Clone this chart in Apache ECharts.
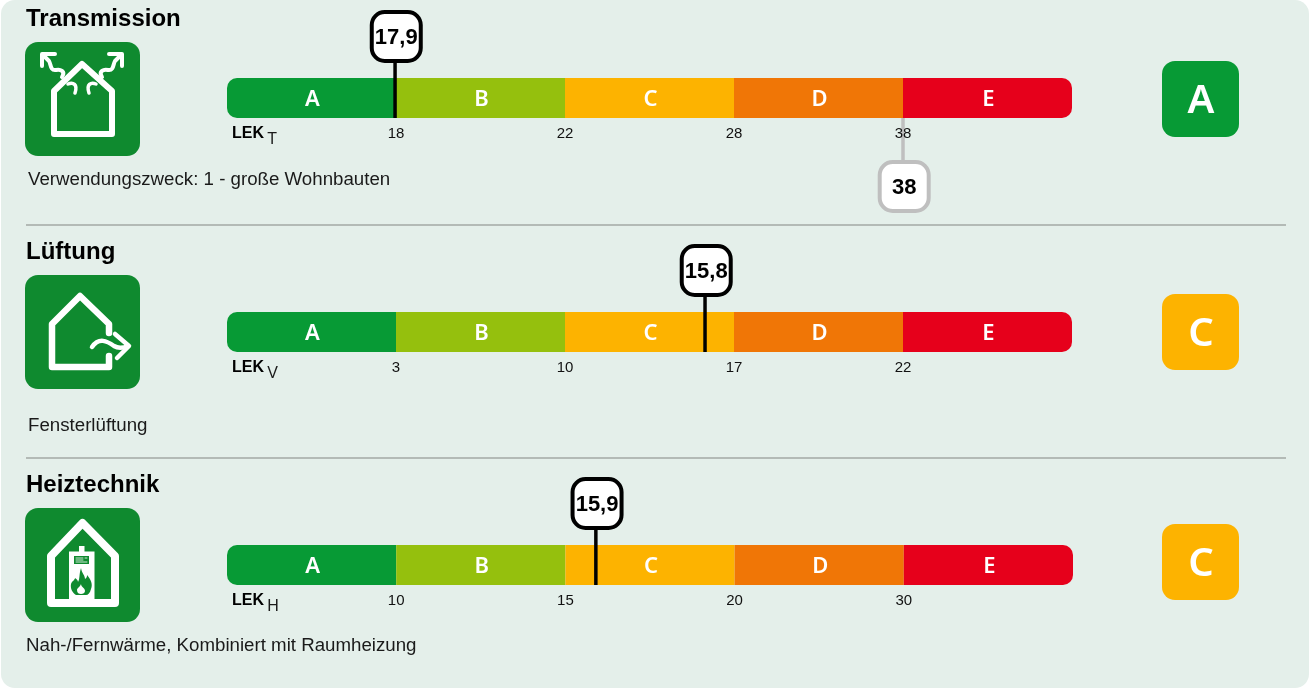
<!DOCTYPE html>
<html>
<head>
<meta charset="utf-8">
<title>LEK</title>
<script src="https://cdn.jsdelivr.net/npm/echarts@6/dist/echarts.min.js"></script>
<style>
html,body{margin:0;padding:0;background:#fff;}
#main{width:1309px;height:689px;}
</style>
</head>
<body>
<div id="main"></div>
<script>
var classes = ['A','B','C','D','E'];
var classColors = ['#079A35','#95C00D','#FDB300','#F07606','#E6001B'];

var rowTitles = ['Transmission','Lüftung','Heiztechnik'];
var rowNotes = ['Verwendungszweck: 1 - große Wohnbauten','Fensterlüftung','Nah-/Fernwärme, Kombiniert mit Raumheizung'];
var rowSubs = ['T','V','H'];
var transBounds = [18,22,28,38];
var ventBounds = [3,10,17,22];
var heatBounds = [10,15,20,30];
var rowValues = [17.9,15.8,15.9];
var rowGrades = ['A','C','C'];
var transLimit = 38;

var allBounds = [transBounds,ventBounds,heatBounds];

// layout
var barTop = [78,312,545];
var barWidth = [845,845,846];
var iconTop = [42,275,508];
var gradeTop = [61,294,524];
var titleTop = [7,240,473];
var noteTop = [170,416,636];
var noteLeft = [28,28,26];

var fontFamily = '"Liberation Sans", Arial, sans-serif';
var letterFont = '"Noto Sans", sans-serif';

// the bar has five equal classes, the value sits inside its class linearly
function toBand(v,bounds){
	for(var i = 0; i < bounds.length; i++){
		if(v <= bounds[i]){
			var low = i > 0 ? bounds[i-1] : 0;
			return i + (v-low)/(bounds[i]-low);
		}
	}
	return bounds.length;
}

function renderMarker(api,text){
	var p = api.coord([api.value(0),0]);
	var h = api.size([0,1])[1];
	var below = api.value(1) == 1;
	var color = below ? '#BFBFBF' : '#000';
	var x = p[0];
	var box = 49;
	var y1 = p[1]+h/2;
	var y2,by;
	if(below){
		y2 = y1+44; by = y2;
	}else{
		y2 = p[1]-h/2-17; by = y2-box;
	}
	return {
		type:'group',
		children:[{
			type:'line',
			shape:{x1:x,y1:y1,x2:x,y2:y2},
			style:{stroke:color,lineWidth:3.5}
		},{
			type:'rect',
			shape:{x:x-box/2+1.2,y:by,width:box,height:box,r:13},
			style:{fill:'#fff',stroke:color,lineWidth:4}
		},{
			type:'text',
			x:x+1.2,
			y:by+box/2+1,
			style:{
				text:text,
				fill:'#000',
				align:'center',
				verticalAlign:'middle',
				font:'bold 22px '+fontFamily
			}
		}]
	};
}

var grids = [],xAxes = [],yAxes = [],series = [],titles = [],graphics = [];

graphics.push({
	type:'rect',z:-10,
	shape:{x:1,y:0,width:1308,height:688,r:14},
	style:{fill:'#E4EFEA'}
});
graphics.push({type:'line',shape:{x1:26,y1:225,x2:1286,y2:225},style:{stroke:'#A3A8A5',lineWidth:1.5}});
graphics.push({type:'line',shape:{x1:26,y1:458,x2:1286,y2:458},style:{stroke:'#A3A8A5',lineWidth:1.5}});

// white icons, coordinates local to the 115px icon square: [path, stroke width or 0 for fill, colour]
var iconParts = [
	[
		['M29 92 V49 L57 22 L87 49 V92 Z',6,'#fff'],
		['M37 35 C41 29 35 27 31 28 C25 29 26 22 24 19 L18 13',4,'#fff'],
		['M77 35 C73 29 79 27 83 28 C89 29 88 22 90 19 L96 13',4,'#fff'],
		['M17 24 V12 H30',4,'#fff'],
		['M97 24 V12 H84',4,'#fff'],
		['M43 42 C48 40 53 42 50 51',3.5,'#fff'],
		['M71 42 C66 40 61 42 64 51',3.5,'#fff']
	],
	[
		['M84 58 V49 L55 21 L27 49 V92 H84 V81',6.5,'#fff'],
		['M67 72 C74 62 82 66 89 71 C94 74 98 73 103 71',4.5,'#fff'],
		['M90 59 L104 71 L92 83',4.5,'#fff']
	],
	[
		['M26 95 V48 L57.5 15 L90 48 V95 Z',8,'#fff'],
		['M54 38 H59.5 V43.5 H69.5 V91 H44 V43.5 H54 Z',0,'#fff'],
		['M49 48 H64 V56 H49 Z',0,'#0F8A2F'],
		['M51 50 H58 M60 50 H62 M51 52 H58 M51 54 H62',0.8,'#fff'],
		['M56 60 C57 66 60 67 60 71 C62 70 62 68 62 67 C66 72 68 76 66 81 C65 85 63 87 61 87 H51 C48 85 45 81 46 76 C47 73 50 72 50 70 C52 71 53 73 53 74 C55 71 54 66 56 60 Z',0,'#0F8A2F'],
		['M56 76 C56 79 60 80 60 83 C60 85 58 86 56 86 C54 86 52 85 52 82 C52 80 55 79 56 76 Z',0,'#fff']
	]
];

for(var r = 0; r < 3; r++){
	(function(r){
		var bounds = allBounds[r];
		grids.push({left:227,top:barTop[r],width:barWidth[r],height:40});
		xAxes.push({
			type:'value',gridIndex:r,min:0,max:5,interval:1,z:5,
			axisLine:{show:false},axisTick:{show:false},splitLine:{show:false},
			axisLabel:{
				show:true,margin:8,color:'#111',
				fontSize:15,fontFamily:fontFamily,
				formatter:function(v){
					return v >= 1 && v <= 4 ? String(bounds[v-1]) : '';
				}
			}
		});
		yAxes.push({
			type:'category',gridIndex:r,data:[rowTitles[r]],
			axisLine:{show:false},axisTick:{show:false},axisLabel:{show:false}
		});

		for(var c = 0; c < classes.length; c++){
			var rad = c == 0 ? [10,0,0,10] : (c == classes.length-1 ? [0,10,10,0] : 0);
			series.push({
				type:'bar',xAxisIndex:r,yAxisIndex:r,stack:'row'+r,barWidth:'100%',
				silent:true,
				data:[1],
				itemStyle:{color:classColors[c],borderRadius:rad},
				label:{
					show:true,position:'inside',offset:[1,2],formatter:classes[c],
					color:'#fff',fontSize:22,fontWeight:600,fontFamily:letterFont
				}
			});
		}

		var marks = [[toBand(rowValues[r],bounds),0]];
		var markText = [String(rowValues[r]).replace('.',',')];
		if(r == 0){
			marks.push([toBand(transLimit,bounds),1]);
			markText.push(String(transLimit));
		}
		series.push({
			type:'custom',xAxisIndex:r,yAxisIndex:r,z:4,clip:false,silent:true,
			renderItem:function(params,api){
				return renderMarker(api,markText[params.dataIndex]);
			},
			encode:{x:0},
			data:marks
		});

		titles.push({
			text:rowTitles[r],left:26,top:titleTop[r],padding:0,
			textStyle:{fontSize:24,fontWeight:'bold',color:'#000',fontFamily:fontFamily}
		});

		graphics.push({
			type:'text',x:noteLeft[r],y:noteTop[r],
			style:{text:rowNotes[r],fill:'#1a1a1a',font:'18.7px '+fontFamily}
		});
		graphics.push({
			type:'text',x:232,y:barTop[r]+47.5,
			style:{
				text:'{b|LEK} {s|'+rowSubs[r]+'}',
				rich:{
					b:{font:'bold 16px '+fontFamily,fill:'#000',verticalAlign:'top'},
					s:{font:'16px '+fontFamily,fill:'#1a1a1a',padding:[6,0,0,0]}
				}
			}
		});

		// icon
		var kids = [{
			type:'rect',
			shape:{x:0,y:0,width:115,height:114,r:13},
			style:{fill:'#0F8A2F'}
		}];
		for(var i = 0; i < iconParts[r].length; i++){
			var part = iconParts[r][i];
			var name = 'lekIcon'+r+'_'+i;
			echarts.graphic.registerShape(name,echarts.graphic.extendPath(part[0],{}));
			kids.push({
				type:name,
				style:part[1] ? {fill:'none',stroke:part[2],lineWidth:part[1],lineJoin:'round',lineCap:'round'} : {fill:part[2]}
			});
		}
		graphics.push({type:'group',x:25,y:iconTop[r],children:kids});

		// grade box
		var g = classes.indexOf(rowGrades[r]);
		graphics.push({
			type:'rect',
			shape:{x:1162,y:gradeTop[r],width:77,height:76,r:13},
			style:{fill:classColors[g]}
		});
		graphics.push({
			type:'text',x:1201,y:gradeTop[r]+41,
			style:{
				text:rowGrades[r],fill:'#fff',align:'center',verticalAlign:'middle',
				font:'600 40px '+letterFont
			}
		});
	})(r);
}

var myChart = echarts.init(document.getElementById('main'),null,{renderer:'canvas'});
myChart.setOption({
	animation:false,
	tooltip:{show:false},
	title:titles,
	grid:grids,
	xAxis:xAxes,
	yAxis:yAxes,
	series:series,
	graphic:{elements:graphics}
});
</script>
</body>
</html>
